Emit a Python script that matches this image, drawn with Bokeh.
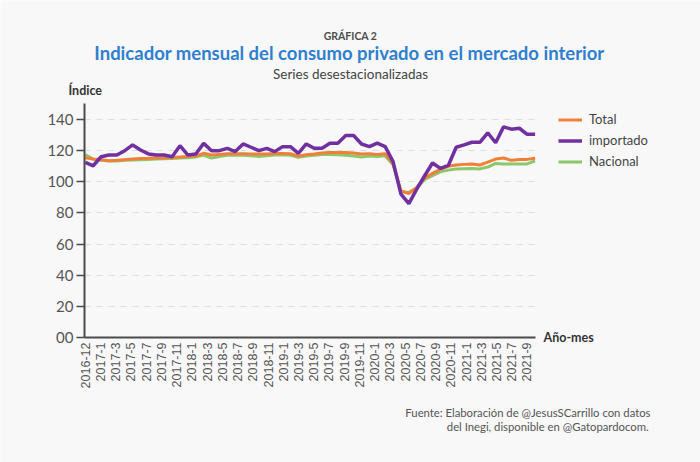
from bokeh.plotting import figure
from bokeh.models import (Range1d, FixedTicker, Label, Legend, LegendItem, ColumnDataSource)
from bokeh.embed import file_html
from bokeh.resources import INLINE
from math import pi

# ---------------- data ----------------
tick_labels = ["2016-12", "2017-1", "2017-3", "2017-5", "2017-7", "2017-9", "2017-11",
               "2018-1", "2018-3", "2018-5", "2018-7", "2018-9", "2018-11",
               "2019-1", "2019-3", "2019-5", "2019-7", "2019-9", "2019-11",
               "2020-1", "2020-3", "2020-5", "2020-7", "2020-9", "2020-11",
               "2021-1", "2021-3", "2021-5", "2021-7", "2021-9"]

total = [115.5, 114.6, 114.2, 113.6, 113.8, 114.2, 114.6, 115.0, 115.1, 115.3,
         115.3, 115.6, 116.0, 116.2, 116.6, 118.3, 117.2, 117.6, 118.0, 118.0,
         118.0, 117.8, 117.8, 117.9, 118.2, 118.2, 118.0, 116.5, 117.4, 117.9,
         118.5, 118.9, 118.8, 118.8, 118.5, 117.9, 118.1, 117.5, 118.1, 111.5,
         94.2, 92.5, 96.4, 102.4, 105.4, 108.0, 110.0, 110.8, 111.2, 111.5,
         110.8, 112.6, 114.6, 115.3, 113.8, 114.3, 114.4, 115.2]

importado = [112.5, 110.3, 116.1, 117.2, 117.2, 120.0, 123.7, 120.4, 117.9, 117.2,
             117.2, 116.1, 123.2, 117.2, 117.9, 124.7, 120.0, 120.0, 121.5, 119.4,
             124.3, 122.2, 120.0, 121.5, 119.4, 122.6, 122.6, 118.3, 124.3, 121.5,
             121.5, 124.8, 124.8, 129.7, 129.7, 124.3, 122.6, 124.8, 122.6, 113.0,
             92.1, 86.0, 95.3, 103.9, 112.1, 108.6, 110.5, 122.2, 123.7, 125.4,
             125.4, 131.5, 125.1, 135.3, 133.8, 134.4, 130.5, 130.5]

nacional = [117.5, 114.5, 113.8, 113.3, 113.4, 113.8, 114.0, 114.2, 114.4, 114.6,
            114.8, 115.0, 115.3, 115.5, 116.0, 117.0, 115.2, 116.3, 117.0, 117.2,
            117.0, 116.8, 116.3, 116.8, 117.2, 117.3, 117.0, 115.7, 116.5, 117.0,
            117.5, 117.6, 117.3, 117.0, 116.6, 116.0, 116.5, 116.3, 116.8, 111.0,
            93.6, 93.2, 96.0, 101.5, 104.0, 106.4, 107.5, 108.2, 108.4, 108.6,
            108.3, 109.5, 111.8, 111.4, 111.4, 111.4, 111.5, 113.4]

y_ticks = [0, 20, 40, 60, 80, 100, 120, 140]

# ---------------- layout (pixels) ----------------
W, H = 700, 462
PL, PR, PT, PB = 84, 535, 103, 337          # plotting area in page pixels
X0, X1 = -0.1, 57.05                          # data extent of the x axis
Y0, Y1 = 0.0, 150.3                           # data extent of the y axis
sx = (PR - PL) / (X1 - X0)
sy = (PB - PT) / (Y1 - Y0)
xr = Range1d(X0 - PL / sx, X1 + (W - PR) / sx)
yr = Range1d(Y0 - (H - PB) / sy, Y1 + PT / sy)

BG = "#f8f8f8"
AX = "#4a4a4a"
idx = list(range(len(total)))
src = ColumnDataSource(dict(x=idx, total=total, importado=importado, nacional=nacional))

p = figure(width=W, height=H, output_backend="svg", toolbar_location=None,
           x_range=xr, y_range=yr, title=None, min_border=0)
p.min_border_left = p.min_border_right = p.min_border_top = p.min_border_bottom = 0
p.background_fill_color = BG
p.border_fill_color = BG
p.outline_line_color = None

# x axis (drawn at y = 0 inside the frame)
n = len(tick_labels)
x_tick_pos = [k * 1.93 for k in range(n)]
xa = p.xaxis[0]
xa.fixed_location = 0
xa.bounds = (X0, X1)
xa.ticker = FixedTicker(ticks=x_tick_pos)
xa.major_label_overrides = {t: l for t, l in zip(x_tick_pos, tick_labels)}
xa.major_label_orientation = pi / 2
xa.major_tick_out = 0
xa.major_tick_in = 0
xa.minor_tick_out = 0
xa.minor_tick_in = 0
xa.axis_line_color = AX
xa.axis_line_width = 2
xa.major_label_text_font = "Liberation Sans"
xa.major_label_text_font_size = "12.5px"
xa.major_label_text_color = "#555555"
xa.major_label_standoff = 5

# y axis (drawn at x = X0 inside the frame)
ya = p.yaxis[0]
ya.fixed_location = X0
ya.bounds = (Y0, Y1)
ya.ticker = FixedTicker(ticks=y_ticks)
ya.major_label_overrides = {0: "00"}
ya.major_tick_out = 8
ya.major_tick_in = 0
ya.minor_tick_out = 0
ya.minor_tick_in = 0
ya.major_tick_line_color = AX
ya.major_tick_line_width = 1.5
ya.axis_line_color = AX
ya.axis_line_width = 2
ya.major_label_text_font = "Lato"
ya.major_label_text_font_size = "15px"
ya.major_label_text_color = "#555555"
ya.major_label_standoff = 3

p.xgrid.grid_line_color = None
p.ygrid.ticker = FixedTicker(ticks=y_ticks[1:])
p.ygrid.cross_bounds = (X0, X1)
p.ygrid.grid_line_color = "#dedede"
p.ygrid.grid_line_dash = "6 6"
p.ygrid.grid_line_width = 1

# lines
r_nac = p.line("x", "nacional", source=src, line_color="#8cc76a", line_width=3)
r_tot = p.line("x", "total", source=src, line_color="#f07f3a", line_width=3)
r_imp = p.line("x", "importado", source=src, line_color="#7030a0", line_width=3.5)

legend = Legend(items=[LegendItem(label="Total", renderers=[r_tot]),
                       LegendItem(label="importado", renderers=[r_imp]),
                       LegendItem(label="Nacional", renderers=[r_nac])],
                location=(558, H - 171.5), orientation="vertical")
legend.background_fill_alpha = 0
legend.border_line_color = None
legend.padding = 0
legend.margin = 0
legend.spacing = 0
legend.glyph_width = 24
legend.glyph_height = 21
legend.label_height = 21
legend.label_standoff = 7
legend.label_text_font = "Lato"
legend.label_text_font_size = "13px"
legend.label_text_color = "#444444"
p.add_layout(legend)

# texts (screen pixels: x from left, y from top of the page)
def lab(x, y, text, size, color, bold=False, align="left", font="Lato"):
    p.add_layout(Label(x=x, y=H - y, x_units="screen", y_units="screen", text=text,
                       text_font=font, text_font_size=size, text_color=color,
                       text_font_style="bold" if bold else "normal",
                       text_align=align, text_baseline="middle"))

lab(350, 35, "GRÁFICA 2", "10.5px", "#4d4d4d", bold=True, align="center")
lab(349, 52, "Indicador mensual del consumo privado en el mercado interior", "18.5px",
    "#2f7fd0", bold=True, align="center")
lab(350, 73, "Series desestacionalizadas", "13.5px", "#444444", align="center")
lab(68, 90, "Índice", "12.5px", "#333333", bold=True)
lab(543, 337, "Año-mes", "12.5px", "#333333", bold=True)
lab(650, 412, "Fuente: Elaboración de @JesusSCarrillo con datos", "11.3px", "#555555", align="right")
lab(651, 426, "del Inegi,  disponible en @Gatopardocom.", "11.3px", "#555555", align="right")

open("out.html", "w").write(file_html(p, INLINE))
